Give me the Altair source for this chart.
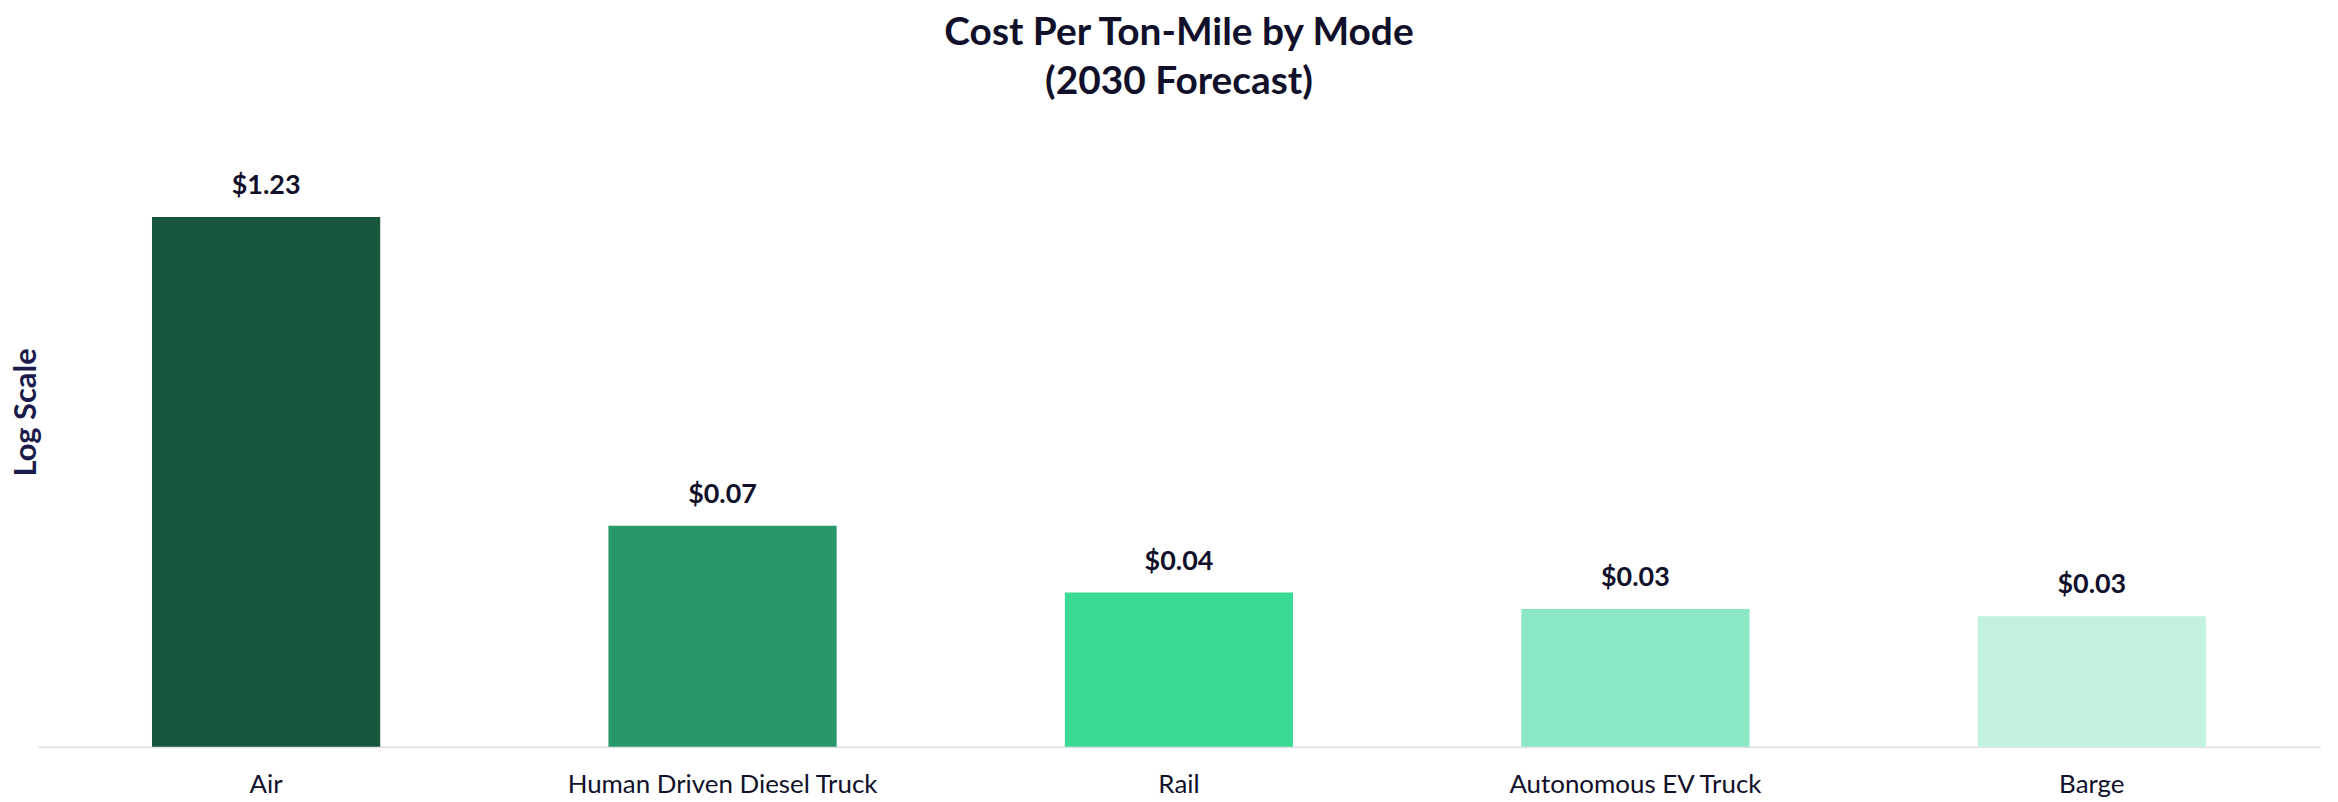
import altair as alt
import pandas as pd

modes = ["Air", "Human Driven Diesel Truck", "Rail", "Autonomous EV Truck", "Barge"]
costs = [1.23, 0.0745, 0.0406, 0.0349, 0.0327]
colors = ["#18573c", "#28986a", "#3ad994", "#8ae9c3", "#c3f2df"]
y_floor = 0.01

df = pd.DataFrame({"mode": modes, "cost": costs})

FONT = "Lato"
INK = "#10102a"

x = alt.X("mode:N", sort=modes,
          scale=alt.Scale(paddingInner=0.5, paddingOuter=0.25),
          axis=alt.Axis(title=None, labelAngle=0, labelFontSize=26, labelFont=FONT,
                        labelColor=INK, labelPadding=25, ticks=False, labelLimit=0,
                        domainColor="#e2e2e8", domainWidth=2))
y = alt.Y("cost:Q",
          scale=alt.Scale(type="log", domain=[y_floor, 2.5], nice=False),
          axis=alt.Axis(title="Log Scale", labels=False, ticks=False, grid=False,
                        domain=False, titleFont=FONT, titleFontSize=31,
                        titleFontWeight="bold", titleColor="#1b1b4b",
                        titleAngle=270, titleX=-11, titleY=274,
                        titleAlign="center", titleBaseline="middle"))

bars = alt.Chart(df).mark_bar().encode(
    x=x, y=y, y2=alt.datum(y_floor),
    color=alt.Color("mode:N", sort=modes,
                    scale=alt.Scale(domain=modes, range=colors), legend=None),
)

labels = alt.Chart(df).mark_text(
    dy=-17, baseline="bottom", font=FONT, fontSize=27, fontWeight="bold", color=INK
).encode(x=alt.X("mode:N", sort=modes), y="cost:Q", text=alt.Text("cost:Q", format="$.2f"))

chart = (bars + labels).properties(
    width=2291, height=610,
    title=alt.TitleParams(["Cost Per Ton-Mile by Mode", "(2030 Forecast)"],
                          font=FONT, fontSize=39, fontWeight="bold", color=INK,
                          lineHeight=49, offset=37, anchor="middle"),
    autosize=alt.AutoSizeParams(type="none"),
    padding={"left": 30, "top": 130, "right": 10, "bottom": 50},
).configure_view(stroke=None)

chart.save("out.html", embed_options={"renderer": "svg", "actions": False})
